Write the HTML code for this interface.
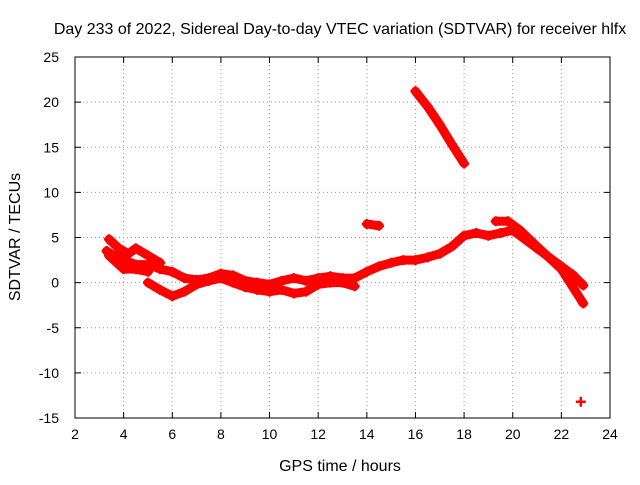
<!DOCTYPE html>
<html><head><meta charset="utf-8"><style>
body{margin:0;background:#fff}
svg{font-family:"Liberation Sans",sans-serif;font-size:14px}
</style></head><body>
<svg id="c" width="640" height="480"></svg>
<script>
const xTicks=[2,4,6,8,10,12,14,16,18,20,22,24];
const yTicks=[-15,-10,-5,0,5,10,15,20,25];
const band1=[[3.3,3.5],[3.6,3],[4,2.5],[4.5,2],[5,2],[5.5,1.5],[6,1.2],[6.5,0.5],[7,0.3],[7.5,0.5],[8,1],[8.5,0.8],[9,0.2],[9.5,0],[10,-0.2],[10.5,0.2],[11,0.5],[11.5,0.2],[12,0.5],[12.5,0.7],[13,0.5],[13.5,0.5],[14,1.2],[14.5,1.8],[15,2.2],[15.5,2.5],[16,2.5],[16.5,2.8],[17,3.2],[17.5,4],[18,5.2],[18.5,5.5],[19,5.2],[19.5,5.5],[20,5.8],[20.5,4.8],[21,3.8],[21.5,2.8],[22,1.8],[22.5,0.8],[22.9,-0.3]];
const band2=[[3.4,4.8],[3.8,3.8],[4.2,3.2],[4.5,3.8],[5,3],[5.5,2.2]];
const band3=[[3.4,3],[3.8,2],[4,1.5],[4.5,1.5],[5,1.2]];
const band4=[[5,0],[5.5,-0.8],[6,-1.5],[6.5,-1],[7,-0.2],[7.5,0.2],[8,0.5],[8.5,0],[9,-0.5],[9.5,-0.8],[10,-1],[10.5,-0.8],[11,-1.2],[11.5,-1],[12,-0.2],[12.5,0],[13,0],[13.5,-0.4]];
const band5=[[19.3,6.8],[19.8,6.8],[20.3,5.8],[21,4],[22,1.5],[22.9,-2.3]];
const band6=[[16,21.2],[16.5,19.5],[17,17.5],[17.5,15.3],[18,13.2]];
const band7=[[14,6.5],[14.5,6.3]];
const band8=[[22.8,-13.2]];
const L=75,R=610,T=57,B=418;
const xs=v=>L+(v-2)/22*(R-L), ys=v=>B-(v+15)/40*(B-T);
const svg=document.getElementById('c');const NS='http://www.w3.org/2000/svg';
function mk(t,a,txt){const e=document.createElementNS(NS,t);for(const k in a)e.setAttribute(k,a[k]);if(txt!=null)e.textContent=txt;svg.appendChild(e);return e;}
xTicks.forEach(v=>{const x=xs(v);
 if(v>2&&v<24){const g=mk('line',{x1:x,x2:x,y1:T,y2:B,stroke:'#a0a0a0','stroke-dasharray':'1,3'});}
 mk('line',{x1:x,x2:x,y1:B,y2:B-6,stroke:'#000'});mk('line',{x1:x,x2:x,y1:T,y2:T+6,stroke:'#000'});
 const t=mk('text',{x:x,y:B+21,'text-anchor':'middle'},v);});
yTicks.forEach(v=>{const y=ys(v);
 if(v>-15&&v<25){const g=mk('line',{x1:L,x2:R,y1:y,y2:y,stroke:'#a0a0a0','stroke-dasharray':'1,3'});}
 mk('line',{x1:L,x2:L+6,y1:y,y2:y,stroke:'#000'});mk('line',{x1:R,x2:R-6,y1:y,y2:y,stroke:'#000'});
 const t=mk('text',{x:L-16,y:y+5,'text-anchor':'end'},v);});
const fr=mk('rect',{x:L,y:T,width:R-L,height:B-T,fill:'none',stroke:'#000'});

[band1,band2,band3,band4,band5,band6,band7,band8].forEach(s=>{
 if(s.length>1){const p=mk('polyline',{points:s.map(d=>xs(d[0])+','+ys(d[1])).join(' '),fill:'none',stroke:'#f00','stroke-width':9,'stroke-linejoin':'round','stroke-linecap':'round'});
 }
 s.forEach(d=>{const x=xs(d[0]),y=ys(d[1]);
  const m=mk('path',{d:`M${x-5},${y}H${x+5}M${x},${y-5}V${y+5}`,stroke:'#f00','stroke-width':2.5});
  });
});
const tt=mk('text',{x:340,y:34,'text-anchor':'middle','font-size':'16px'},'Day 233 of 2022, Sidereal Day-to-day VTEC variation (SDTVAR) for receiver hlfx');

const xl=mk('text',{x:340,y:471,'text-anchor':'middle','font-size':'16px'},'GPS time / hours');

const yl=mk('text',{x:20,y:237,'text-anchor':'middle','font-size':'16px',transform:'rotate(-90 20 237)'},'SDTVAR / TECUs');

</script>
</body></html>
